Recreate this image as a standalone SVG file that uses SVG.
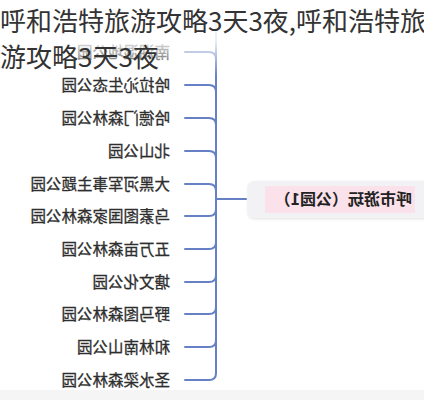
<svg xmlns="http://www.w3.org/2000/svg" width="424" height="400" viewBox="0 0 424 400">
<defs>
<style>
.br{fill:none;stroke:#6580c4;stroke-width:2;stroke-linecap:round}
.lbl{font-family:"Noto Sans CJK SC","Noto Sans",sans-serif;font-size:15.5px;fill:#2e2e2e;stroke:#2e2e2e;stroke-width:0.3}
.ctr{font-family:"Noto Sans CJK SC","Noto Sans",sans-serif;font-size:16px;font-weight:bold;fill:#222}
.ttl{font-family:"Noto Sans CJK SC","Noto Sans",sans-serif;font-size:26px;fill:#333}
</style>
<linearGradient id="fade" x1="0" y1="0" x2="0" y2="1">
<stop offset="0" stop-color="#fff" stop-opacity="1"/>
<stop offset="0.55" stop-color="#fff" stop-opacity="0.85"/>
<stop offset="1" stop-color="#fff" stop-opacity="0"/>
</linearGradient>
<filter id="sh" x="-10%" y="-30%" width="120%" height="160%">
<feDropShadow dx="0" dy="1" stdDeviation="1.5" flood-color="#000" flood-opacity="0.12"/>
</filter>
</defs>
<rect width="424" height="400" fill="#fff"/>
<rect x="0" y="390" width="424" height="10" fill="#f5f5f5"/>
<g transform="matrix(-1 0 0 1 424 0)">
<g id="connectors">
<path class="br" d="M208,26 V373"/>
<path class="br" d="M208,26 Q208,19 215,19 H239"/>
<path class="br" d="M208,59 Q208,52 215,52 H239"/>
<path class="br" d="M208,92 Q208,85 215,85 H239"/>
<path class="br" d="M208,125 Q208,118 215,118 H239"/>
<path class="br" d="M208,158 Q208,151 215,151 H239"/>
<path class="br" d="M208,191 Q208,184 215,184 H239"/>
<path class="br" d="M208,209 Q208,216 215,216 H239"/>
<path class="br" d="M208,242 Q208,249 215,249 H239"/>
<path class="br" d="M208,275 Q208,282 215,282 H239"/>
<path class="br" d="M208,307 Q208,314 215,314 H239"/>
<path class="br" d="M208,340 Q208,347 215,347 H239"/>
<path class="br" d="M208,373 Q208,380 215,380 H239"/>
<path class="br" d="M178,199 H208"/>
</g>
<g id="center">
<rect x="-10" y="181" width="186" height="37" rx="6" fill="#f2f2f4" filter="url(#sh)"/>
<rect x="9" y="186" width="150" height="27" fill="#fbe1ea"/>
<text class="ctr" x="12" y="205">呼市游玩（公园1）</text>
</g>
<g id="n1"><text class="lbl" x="254" y="57.5">南湖湿地公园</text></g>
<g id="n2"><text class="lbl" x="254" y="90.5">哈拉沁生态公园</text></g>
<g id="n3"><text class="lbl" x="254" y="123.5">哈德门森林公园</text></g>
<g id="n4"><text class="lbl" x="254" y="156.5">北山公园</text></g>
<g id="n5"><text class="lbl" x="254" y="189.5">大黑河军事主题公园</text></g>
<g id="n6"><text class="lbl" x="254" y="221.5">乌素图国家森林公园</text></g>
<g id="n7"><text class="lbl" x="254" y="254.5">五万亩森林公园</text></g>
<g id="n8"><text class="lbl" x="254" y="287.5">塘文化公园</text></g>
<g id="n9"><text class="lbl" x="254" y="319.5">野马图森林公园</text></g>
<g id="n10"><text class="lbl" x="254" y="352.5">和林南山公园</text></g>
<g id="n11"><text class="lbl" x="254" y="385.5">圣水梁森林公园</text></g>
</g>
<rect x="0" y="0" width="424" height="76" fill="url(#fade)"/>
<text class="ttl" x="0" y="31">呼和浩特旅游攻略3天3夜,呼和浩特旅</text>
<text class="ttl" x="0" y="67">游攻略3天3夜</text>
</svg>
